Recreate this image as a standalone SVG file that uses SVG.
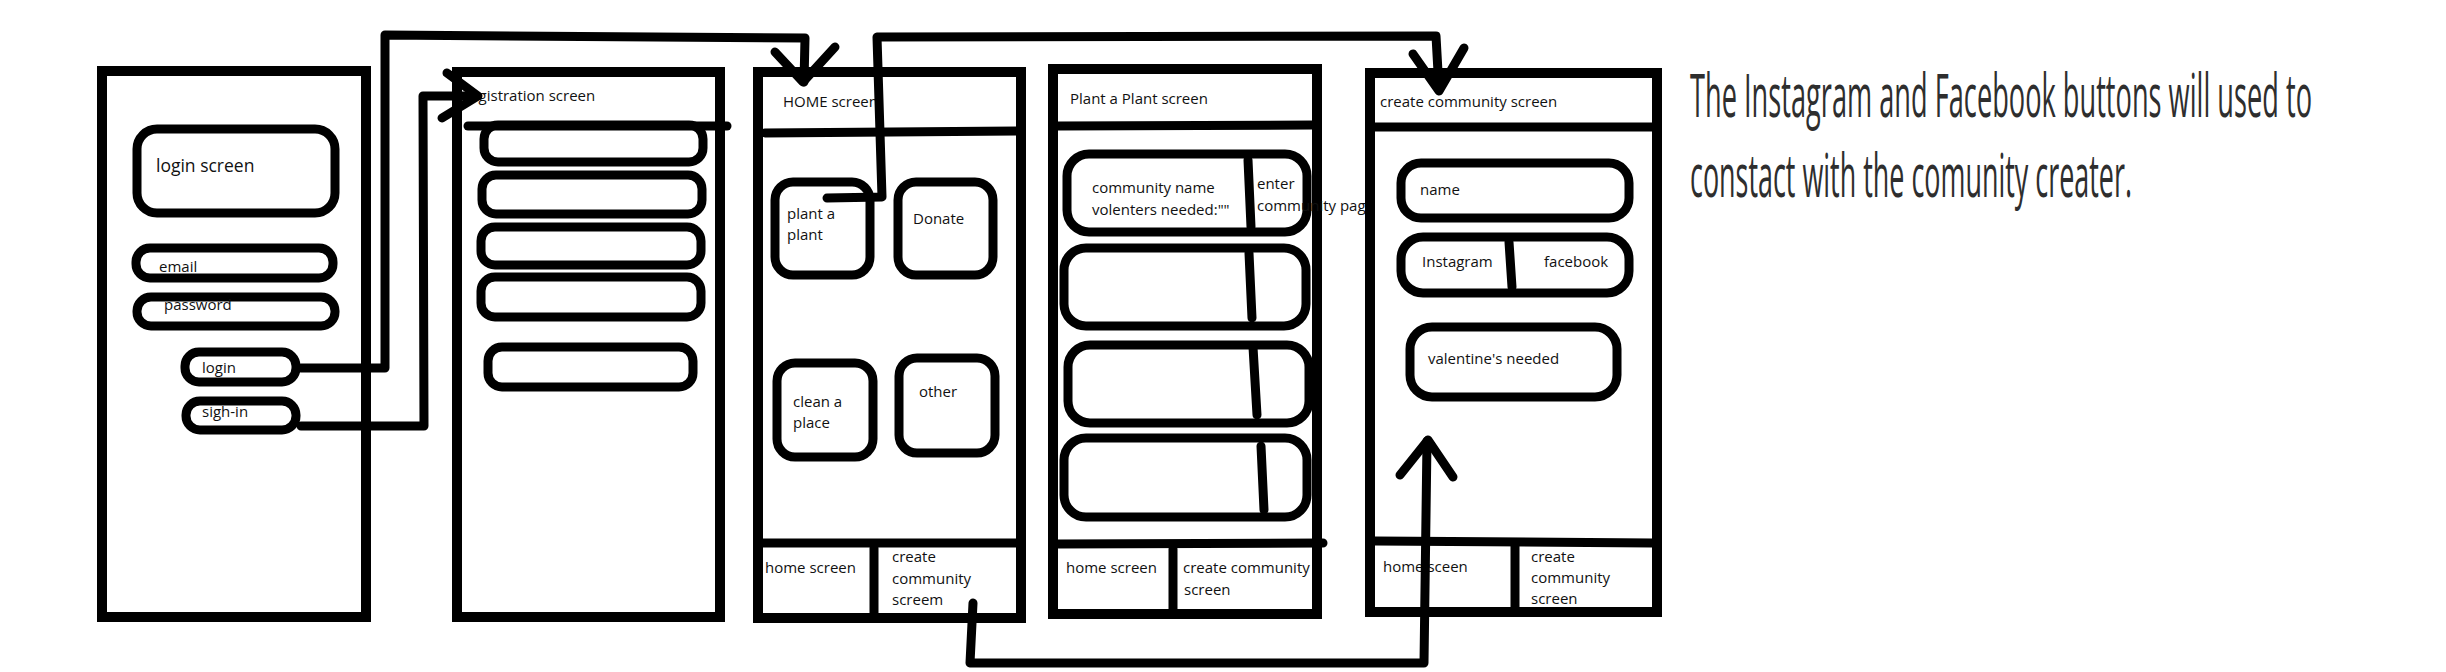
<svg xmlns="http://www.w3.org/2000/svg" width="2446" height="672" viewBox="0 0 2446 672">
<style>
.frame{fill:none;stroke:#000;stroke-width:10;stroke-linejoin:miter}
.box{fill:none;stroke:#000;stroke-width:9}
.ln{fill:none;stroke:#000;stroke-width:9;stroke-linecap:round;stroke-linejoin:round}
.t{font-family:"Open Sans","Noto Sans","Liberation Sans",sans-serif;font-size:15px;fill:#111}
.big{font-size:17.5px}
.note{font-family:"Open Sans","Noto Sans","Liberation Sans",sans-serif;font-size:61px;fill:#2e2e2e}
</style>
<rect width="2446" height="672" fill="#fff"/>

<g id="login-screen">
<rect class="frame" x="102" y="71" width="264" height="546"/>
<rect class="box" x="137" y="129" width="198" height="84" rx="20"/>
<text class="t big" x="156" y="172">login screen</text>
<rect class="box" x="136" y="248" width="197" height="30" rx="14"/>
<text class="t" x="159" y="272">email</text>
<rect class="box" x="137" y="297" width="198" height="29" rx="14"/>
<text class="t" x="164" y="310">password</text>
<rect class="box" x="185" y="352" width="111" height="30" rx="14"/>
<text class="t" x="202" y="373">login</text>
<rect class="box" x="186" y="401" width="110" height="29" rx="14"/>
<text class="t" x="202" y="417">sigh-in</text>
</g>

<g id="registration-screen">
<rect class="frame" x="457" y="72" width="263" height="545"/>
<text class="t" x="464" y="101">registration screen</text>
<line class="ln" x1="468" y1="126" x2="727" y2="126"/>
<rect class="box" x="484" y="125" width="219" height="37" rx="14"/>
<rect class="box" x="482" y="175" width="220" height="39" rx="14"/>
<rect class="box" x="481" y="227" width="220" height="38" rx="14"/>
<rect class="box" x="481" y="277" width="220" height="40" rx="14"/>
<rect class="box" x="488" y="347" width="205" height="40" rx="14"/>
</g>

<g id="home-screen">
<rect class="frame" x="758" y="72" width="263" height="546"/>
<text class="t" x="783" y="107">HOME screen</text>
<line class="ln" x1="765" y1="133" x2="1017" y2="131"/>
<rect class="box" x="775" y="182" width="95" height="93" rx="18"/>
<text class="t" x="787" y="219">plant a</text>
<text class="t" x="787" y="240">plant</text>
<rect class="box" x="898" y="182" width="95" height="93" rx="18"/>
<text class="t" x="913" y="224">Donate</text>
<rect class="box" x="777" y="363" width="96" height="94" rx="18"/>
<text class="t" x="793" y="407">clean a</text>
<text class="t" x="793" y="428">place</text>
<rect class="box" x="899" y="358" width="96" height="95" rx="18"/>
<text class="t" x="919" y="397">other</text>
<line class="ln" x1="762" y1="543" x2="1017" y2="543"/>
<line class="ln" x1="874" y1="548" x2="874" y2="613"/>
<text class="t" x="765" y="573">home screen</text>
<text class="t" x="892" y="562">create</text>
<text class="t" x="892" y="584">community</text>
<text class="t" x="892" y="605">screem</text>
</g>

<g id="plant-screen">
<rect class="frame" x="1053" y="69" width="264" height="545"/>
<text class="t" x="1070" y="104">Plant a Plant screen</text>
<line class="ln" x1="1058" y1="126" x2="1313" y2="125"/>
<rect class="box" x="1067" y="154" width="240" height="78" rx="22"/>
<line class="ln" x1="1248" y1="160" x2="1251" y2="227"/>
<text class="t" x="1092" y="193">community name</text>
<text class="t" x="1092" y="215">volenters needed:""</text>
<text class="t" x="1257" y="189">enter</text>
<text class="t" x="1257" y="211">community page</text>
<rect class="box" x="1064" y="248" width="242" height="78" rx="22"/>
<line class="ln" x1="1249" y1="253" x2="1252" y2="318"/>
<rect class="box" x="1068" y="345" width="241" height="78" rx="22"/>
<line class="ln" x1="1253" y1="347" x2="1257" y2="415"/>
<rect class="box" x="1064" y="438" width="243" height="79" rx="22"/>
<line class="ln" x1="1261" y1="446" x2="1264" y2="510"/>
<line class="ln" x1="1058" y1="544" x2="1323" y2="543"/>
<line class="ln" x1="1173" y1="549" x2="1173" y2="609"/>
<text class="t" x="1066" y="573">home screen</text>
<text class="t" x="1183" y="573">create community</text>
<text class="t" x="1184" y="595">screen</text>
</g>

<g id="create-community-screen">
<rect class="frame" x="1370" y="73" width="287" height="539"/>
<text class="t" x="1380" y="107">create community screen</text>
<line class="ln" x1="1375" y1="127" x2="1652" y2="127"/>
<rect class="box" x="1401" y="163" width="228" height="55" rx="20"/>
<text class="t" x="1420" y="195">name</text>
<rect class="box" x="1401" y="237" width="228" height="56" rx="22"/>
<line class="ln" x1="1509" y1="242" x2="1512" y2="287"/>
<text class="t" x="1422" y="267">Instagram</text>
<text class="t" x="1544" y="267">facebook</text>
<rect class="box" x="1410" y="327" width="207" height="70" rx="22"/>
<text class="t" x="1428" y="364">valentine's needed</text>
<line class="ln" x1="1375" y1="541" x2="1652" y2="543"/>
<line class="ln" x1="1515" y1="546" x2="1515" y2="608"/>
<text class="t" x="1383" y="572">home sceen</text>
<text class="t" x="1531" y="562">create</text>
<text class="t" x="1531" y="583">community</text>
<text class="t" x="1531" y="604">screen</text>
</g>

<g id="note">
<text class="note" x="1690" y="117" textLength="622" lengthAdjust="spacingAndGlyphs">The Instagram and Facebook buttons will used to</text>
<text class="note" x="1690" y="197" textLength="442" lengthAdjust="spacingAndGlyphs">constact with the comunity creater.</text>
</g>

<g id="connectors">
<path class="ln" d="M301,368 L385,368 L385,35 L805,38 L804,82"/>
<path class="ln" d="M775,52 L803,82 L835,47"/>
<path class="ln" d="M301,426 L424,426 L423,96 L476,96"/>
<path class="ln" d="M447,73 L478,96 L442,118"/>
<path class="ln" d="M827,198 L882,197 L877,37 L1436,36 L1439,90"/>
<path class="ln" d="M1413,54 L1439,91 L1464,48"/>
<path class="ln" d="M973,603 L970,663 L1424,663 L1427,441"/>
<path class="ln" d="M1400,475 L1428,440 L1453,477"/>
</g>
</svg>
